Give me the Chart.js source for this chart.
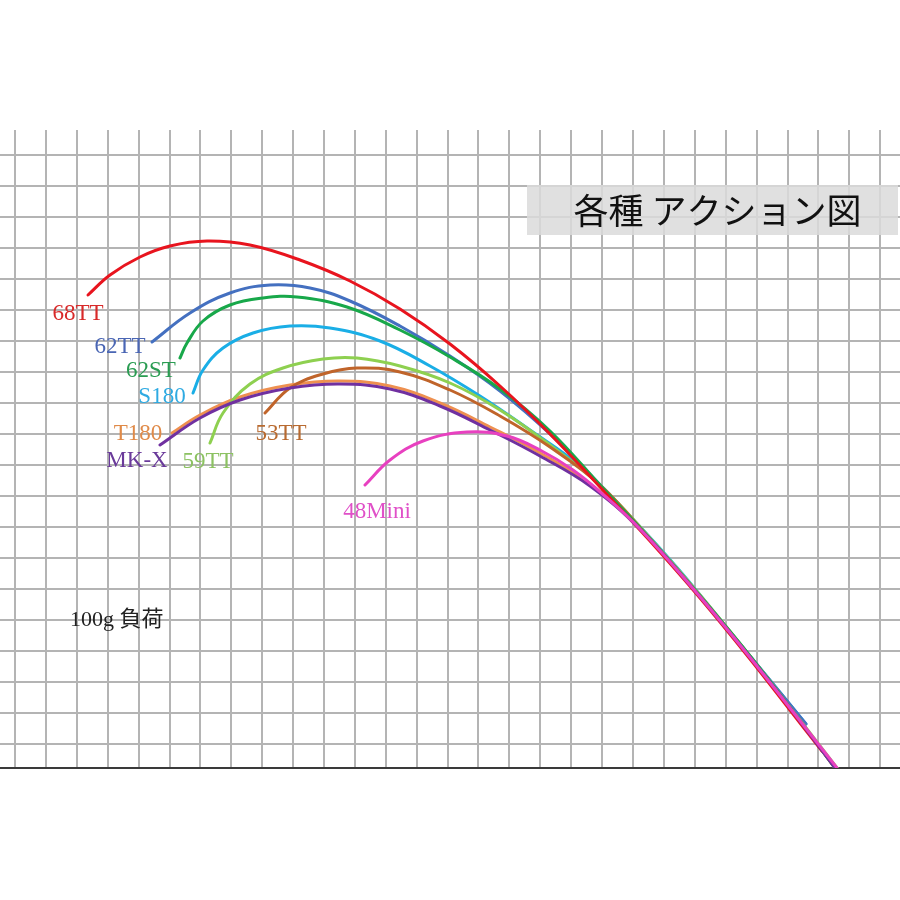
<!DOCTYPE html>
<html>
<head>
<meta charset="utf-8">
<script src="https://cdn.jsdelivr.net/npm/chart.js@4/dist/chart.umd.min.js"></script>
<style>
  body { margin: 0; background: #fff; }
  canvas { display: block; }
</style>
</head>
<body>
<canvas id="actionChart" width="900" height="900"></canvas>
<script>
// rod bend curves (x = along the board, y = height above base line)
const x68TT = [88, 110, 140, 170, 207, 250, 300, 350, 400, 450, 500, 550, 600, 650, 700, 750, 800, 822];
const y68TT = [473, 493, 511, 522, 527, 523, 508, 487, 459, 424, 382, 334, 281, 227, 170, 109, 45, 17];

const x62TT = [152, 190, 230, 270, 310, 350, 400, 450, 500, 550, 600, 650, 700, 750, 806];
const y62TT = [426, 455, 475, 483, 480, 467, 442, 412, 377, 334, 283, 229, 172, 112, 44];

const x62ST = [180, 187, 203, 230, 263, 297, 347, 400, 450, 500, 550, 600, 650, 700, 750, 800, 835];
const y62ST = [410, 425, 447, 463, 470, 471, 461, 438, 411, 379, 337, 283, 229, 172, 112, 47, 0];

const xS180 = [193, 203, 223, 253, 290, 330, 380, 430, 480, 530, 580, 630, 680, 740, 806];
const yS180 = [375, 398, 420, 435, 442, 440, 427, 402, 372, 338, 302, 252, 197, 124, 44];

const xT180 = [172, 200, 240, 290, 340, 390, 440, 490, 540, 590, 640, 690, 740, 790, 835];
const yT180 = [335, 353, 371, 383, 387, 382, 365, 341, 315, 284, 240, 184, 123, 60, 0];

const xMKX = [160, 200, 240, 290, 340, 390, 440, 490, 540, 590, 640, 690, 740, 790, 835];
const yMKX = [323, 350, 368, 380, 384, 379, 362, 338, 312, 282, 239, 183, 123, 60, 0];

const x59TT = [210, 223, 250, 283, 323, 357, 400, 450, 500, 550, 600, 650, 700, 750, 800, 837];
const y59TT = [325, 355, 384, 400, 409, 410, 402, 385, 358, 323, 283, 230, 173, 112, 48, 0];

const x53TT = [265, 290, 323, 357, 400, 450, 500, 550, 600, 650, 700, 750, 800, 835];
const y53TT = [355, 380, 394, 400, 396, 378, 352, 321, 283, 229, 172, 111, 47, 0];

const x48Mini = [365, 390, 423, 467, 507, 540, 573, 606, 640, 690, 740, 790, 837];
const y48Mini = [283, 308, 327, 336, 332, 318, 298, 271, 239, 183, 123, 60, 0];

const seriesNames = ['68TT', '62TT', '62ST', 'S180', 'T180', 'MK-X', '59TT', '53TT', '48Mini'];
const seriesX = [x68TT, x62TT, x62ST, xS180, xT180, xMKX, x59TT, x53TT, x48Mini];
const seriesY = [y68TT, y62TT, y62ST, yS180, yT180, yMKX, y59TT, y53TT, y48Mini];
const lineColors = ['#e8141e', '#4470c0', '#18a84a', '#1aaee6', '#ee9050', '#7030a0', '#8ed050', '#c0642a', '#e840c0'];
const textColors = ['#d82a2a', '#4a66b4', '#2a9c52', '#2eaae2', '#e08a48', '#6a3a9a', '#8cc262', '#b86a30', '#e050c8'];
const drawOrder = [3, 7, 5, 8, 9, 2, 6, 5, 0];

// where each name is written (centre x, baseline y)
const labelX = [78, 120, 151, 162, 138, 137, 208, 281, 377];
const labelY = [448, 415, 391, 365, 328, 301, 300, 328, 250];

const titleText = '各種 アクション図';
const loadText = '100g 負荷';

const datasets = seriesNames.map((name, i) => ({
    label: name,
    data: seriesX[i].map((x, j) => ({ x: x, y: seriesY[i][j] })),
    borderColor: lineColors[i],
    borderWidth: 3,
    pointRadius: 0,
    showLine: true,
    fill: false,
    tension: 0.4,
    borderCapStyle: 'round',
    order: drawOrder[i]
}));

const notesPlugin = {
    id: 'notes',
    beforeDatasetsDraw(chart) {
        const { ctx, scales: { x, y } } = chart;
        // grey title box
        ctx.save();
        ctx.fillStyle = 'rgba(218,218,218,0.85)';
        const left = x.getPixelForValue(527), right = x.getPixelForValue(898);
        const top = y.getPixelForValue(583), bottom = y.getPixelForValue(533);
        ctx.fillRect(left, top, right - left, bottom - top);
        ctx.fillStyle = '#111';
        ctx.font = '35px "Noto Sans CJK JP", "Noto Sans", sans-serif';
        ctx.textAlign = 'center';
        ctx.textBaseline = 'middle';
        ctx.fillText(titleText, (left + right) / 2 + 5, (top + bottom) / 2 + 1);
        ctx.restore();
    },
    afterDatasetsDraw(chart) {
        const { ctx, scales: { x, y } } = chart;
        ctx.save();
        ctx.font = '23px "Liberation Serif", "Noto Sans CJK JP", serif';
        ctx.textAlign = 'center';
        ctx.textBaseline = 'alphabetic';
        seriesNames.forEach((name, i) => {
            ctx.fillStyle = textColors[i];
            ctx.fillText(name, x.getPixelForValue(labelX[i]), y.getPixelForValue(labelY[i]));
        });
        ctx.fillStyle = '#222';
        ctx.textAlign = 'left';
        ctx.font = '22px "Liberation Serif", "Noto Sans CJK JP", serif';
        ctx.fillText(loadText, x.getPixelForValue(70), y.getPixelForValue(142));
        ctx.restore();
    }
};

new Chart(document.getElementById('actionChart'), {
    type: 'scatter',
    data: { datasets: datasets },
    options: {
        responsive: false,
        animation: false,
        layout: { padding: { top: 130, bottom: 132, left: 0, right: 0 } },
        scales: {
            x: {
                type: 'linear',
                min: 0,
                max: 900,
                afterBuildTicks: (scale) => {
                    scale.ticks = Array.from({ length: 29 }, (_, k) => ({ value: 15 + 30.9 * k }));
                },
                ticks: { display: false },
                grid: { color: '#b4b4b4', lineWidth: 2, drawTicks: false },
                border: { display: true, color: '#3a3a3a', width: 2 }
            },
            y: {
                type: 'linear',
                min: 0,
                max: 638,
                afterBuildTicks: (scale) => {
                    scale.ticks = Array.from({ length: 20 }, (_, k) => ({ value: 24 + 31 * k }));
                },
                ticks: { display: false },
                grid: { color: '#b4b4b4', lineWidth: 2, drawTicks: false },
                border: { display: false }
            }
        },
        plugins: {
            legend: { display: false },
            tooltip: { enabled: false }
        }
    },
    plugins: [notesPlugin]
});
</script>
</body>
</html>
